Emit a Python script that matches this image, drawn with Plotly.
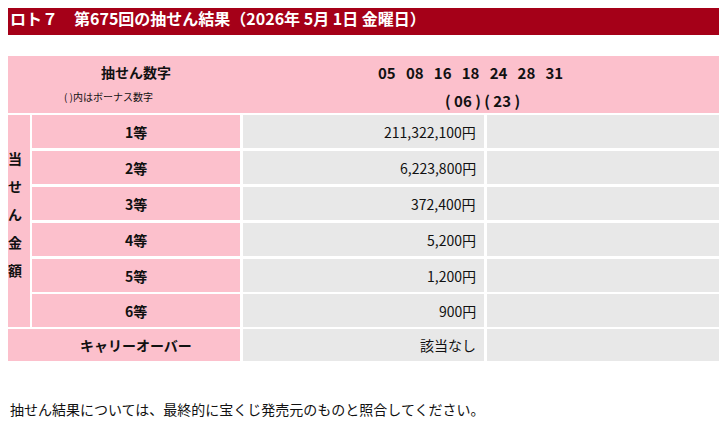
import plotly.graph_objects as go

title = "ロト７　第675回の抽せん結果（2026年 5月 1日 金曜日）"
main_numbers = ["05", "08", "16", "18", "24", "28", "31"]
bonus_numbers = ["06", "23"]
ranks = ["1等", "2等", "3等", "4等", "5等", "6等"]
amounts = ["211,322,100円", "6,223,800円", "372,400円", "5,200円", "1,200円", "900円"]
counts = ["2口", "8口", "154口", "6,664口", "93,317口", "152,104口"]
carry_label = "キャリーオーバー"
carry_value = "該当なし"
note = "抽せん結果については、最終的に宝くじ発売元のものと照合してください。"

W, H = 727, 430
M = 8  # the page body margin shifts the figure by this much
PINK = "#fcc0cc"
GREY = "#e8e8e8"
RED = "#a50018"
FONT = "Noto Sans CJK JP"

shapes = []
ann = []

def rect(x0, y0, x1, y1, color):
    shapes.append(dict(type="rect", xref="x", yref="y", x0=x0, y0=y0, x1=x1, y1=y1,
                       fillcolor=color, line=dict(width=0), layer="below"))

def text(x, y, s, size=14, bold=False, anchor="center", color="#111"):
    ann.append(dict(x=x, y=y, xref="x", yref="y", text=f"<b>{s}</b>" if bold else s,
                    showarrow=False, xanchor=anchor, yanchor="middle",
                    font=dict(size=size, color=color, family=FONT)))

# title bar
rect(0, 0, W, 35, RED)
text(8, 18, title, size=16, bold=True, anchor="left", color="white")

# header row
rect(1, 56, 725, 113, PINK)
text(136, 72, "抽せん数字", 14, True)
text(108, 96, "( )内はボーナス数字", 10)
text(470, 72, "   ".join(main_numbers), 15, True)
text(482, 100, "( " + " ) ( ".join(bonus_numbers) + " )", 15, True)

# prize rows
row_tops = [115, 151, 187, 223, 259, 294]
row_h = 33
rect(1, 115, 30, 327, PINK)
for i, ch in enumerate("当せん金額"):
    text(15, 158 + i * 28, ch, 14, True)
for r, a, c, y0 in zip(ranks, amounts, counts, row_tops):
    rect(32, y0, 240, y0 + row_h, PINK)
    rect(243, y0, 484, y0 + row_h, GREY)
    rect(487, y0, 725, y0 + row_h, GREY)
    ym = y0 + row_h / 2
    text(136, ym, r, 14, True)
    text(478, ym, a, 14, anchor="right")
    text(722, ym, c, 14, anchor="right")

# carry over
rect(1, 329, 240, 361, PINK)
rect(243, 329, 484, 361, GREY)
rect(487, 329, 725, 361, GREY)
text(136, 345, carry_label, 14, True)
text(478, 345, carry_value, 14, anchor="right")

text(8, 409, note, 14, anchor="left")

fig = go.Figure()
fig.update_layout(
    width=W - 2 * M, height=H - 2 * M, margin=dict(l=0, r=0, t=0, b=0),
    paper_bgcolor="white", plot_bgcolor="white",
    xaxis=dict(range=[M, W - M], visible=False, fixedrange=True),
    yaxis=dict(range=[H - M, M], visible=False, fixedrange=True),
    shapes=shapes, annotations=ann, showlegend=False,
)
fig.write_html("out.html")
